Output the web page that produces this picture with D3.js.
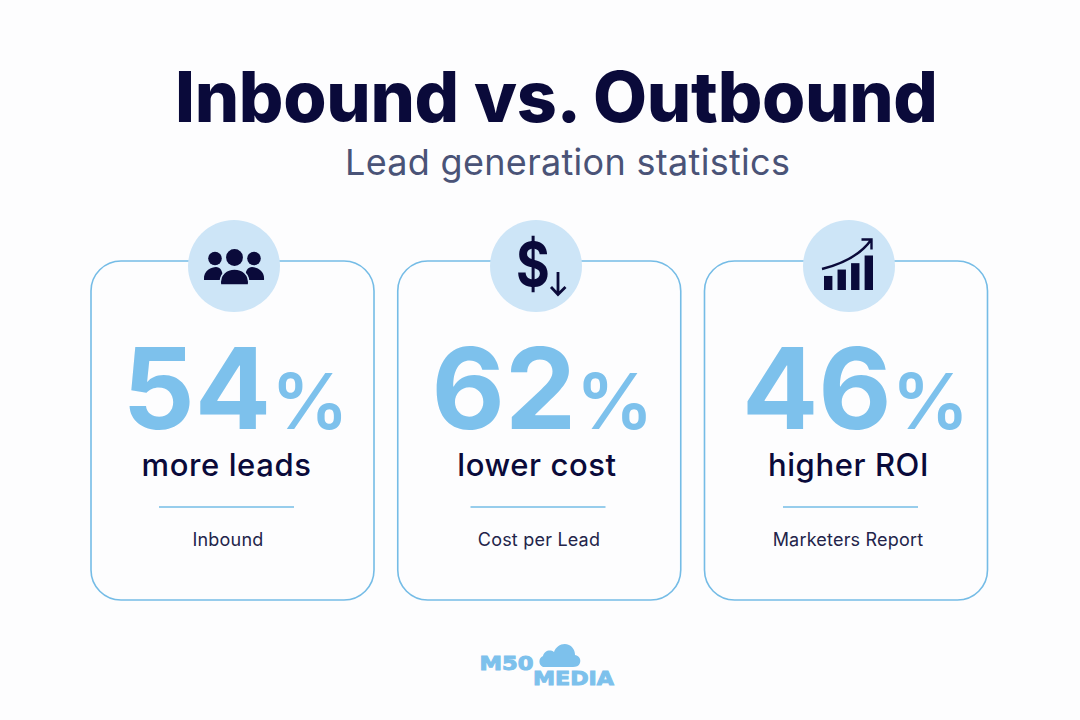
<!DOCTYPE html>
<html>
<head>
<meta charset="utf-8">
<script src="https://cdn.jsdelivr.net/npm/d3@7"></script>
<style>
  html, body { margin: 0; padding: 0; background: #fdfdfe; }
  svg { display: block; }
  text { font-family: Inter, "Noto Sans", sans-serif; }
</style>
</head>
<body>
<svg id="chart" width="1080" height="720"></svg>
<script>
const categories = ['more leads', 'lower cost', 'higher ROI'];
const percentValues = [54, 62, 46];
const sourceLabels = ['Inbound', 'Cost per Lead', 'Marketers Report'];
const iconNames = ['people', 'dollar', 'growth'];
const growthBars = [1, 2, 3, 5.4];

const navy = '#0a0a3a';
const blue = '#7dc1ec';
const border = '#75bce6';
const pale = '#cde5f7';

const svg = d3.select('#chart');
const x = d3.scaleBand().domain(categories).range([91, 987.5]).paddingInner(0.0774);
const cardTop = 261, cardHeight = 339;

// the cards' contents aren't quite centred in the reference
const iconX = [234, 536, 849];
const numberX = [235.5, 542.5, 855.5];
const labelX = [226.5, 537, 848.5];
const subX = [228, 539, 848];
const ruleX = [226.5, 538, 850.5];

svg.append('text').attr('x', 556.5).attr('y', 122)
  .attr('text-anchor', 'middle').attr('font-size', 70).attr('font-weight', 800)
  .attr('textLength', 763).attr('lengthAdjust', 'spacing')
  .attr('fill', navy).text('Inbound vs. Outbound');

svg.append('text').attr('x', 567.5).attr('y', 175)
  .attr('text-anchor', 'middle').attr('font-size', 36).attr('font-weight', 400)
  .attr('textLength', 445).attr('lengthAdjust', 'spacing')
  .attr('fill', '#4a5377').text('Lead generation statistics');

categories.forEach((cat, i) => {
  const g = svg.append('g');
  g.append('rect')
    .attr('x', x(cat)).attr('y', cardTop)
    .attr('width', x.bandwidth()).attr('height', cardHeight)
    .attr('rx', 30)
    .attr('fill', 'none').attr('stroke', border).attr('stroke-width', 1.6);

  g.append('circle').attr('cx', iconX[i]).attr('cy', 266).attr('r', 46).attr('fill', pale);

  const num = g.append('text').attr('x', numberX[i]).attr('y', 429)
    .attr('text-anchor', 'middle').attr('fill', blue);
  num.append('tspan').attr('font-size', 113).attr('font-weight', 700).text(percentValues[i]);
  num.append('tspan').attr('font-size', 77).attr('font-weight', 600).text('%');

  g.append('text').attr('x', labelX[i]).attr('y', 476)
    .attr('text-anchor', 'middle').attr('font-size', 31).attr('font-weight', 500)
    .attr('letter-spacing', 0.6)
    .attr('fill', navy).text(cat);

  g.append('line')
    .attr('x1', ruleX[i] - 67.5).attr('x2', ruleX[i] + 67.5)
    .attr('y1', 507).attr('y2', 507)
    .attr('stroke', border).attr('stroke-width', 1.5);

  g.append('text').attr('x', subX[i]).attr('y', 546)
    .attr('text-anchor', 'middle').attr('font-size', 18)
    .attr('letter-spacing', 0.2)
    .attr('fill', '#23244a').text(sourceLabels[i]);

  const icon = g.append('g').attr('transform', `translate(${iconX[i]},266)`);
  if (iconNames[i] === 'people') drawPeople(icon);
  if (iconNames[i] === 'dollar') drawDollar(icon);
  if (iconNames[i] === 'growth') drawGrowth(icon);
});

function drawPeople(g) {
  [-19, 20].forEach((dx) => {
    g.append('circle').attr('cx', dx).attr('cy', -7.5).attr('r', 6.8).attr('fill', navy);
    const side = dx < 0 ? -1 : 1;
    g.append('path')
      .attr('d', `M${side * 30},14 C${side * 31},4 ${side * 22},1 ${side * 18},1 C${side * 14},1 ${side * 11},4 ${side * 11},14 Z`)
      .attr('fill', navy);
  });
  g.append('circle').attr('cx', 0.5).attr('cy', -8.5).attr('r', 8.4).attr('fill', navy);
  g.append('path')
    .attr('d', 'M-13.5,19 C-15,8 -7,3 0.5,3 C8,3 16,8 14.5,19 Z')
    .attr('fill', navy).attr('stroke', pale).attr('stroke-width', 1.5);
}

function drawDollar(g) {
  g.append('text')
    .attr('transform', 'translate(-3,20) scale(0.86,1)')
    .attr('text-anchor', 'middle').attr('font-size', 60).attr('font-weight', 700)
    .attr('fill', navy).text('$');
  g.append('path')
    .attr('d', 'M22,6 V28 M15,21 L22,28.5 L29.5,21')
    .attr('fill', 'none').attr('stroke', navy).attr('stroke-width', 2.8);
}

function drawGrowth(g) {
  const bx = d3.scaleBand().domain(d3.range(growthBars.length)).range([-25, 24]).paddingInner(0.38);
  const by = d3.scaleLinear().domain([0, 5.4]).range([24, -10.5]);
  growthBars.forEach((b, i) => {
    const top = by(b + 1.2 * (b < 5));
    g.append('rect')
      .attr('x', bx(i)).attr('y', top)
      .attr('width', bx.bandwidth()).attr('height', by(0) - top)
      .attr('fill', navy);
  });
  g.append('path')
    .attr('d', 'M-27,3 C-3,-3 12,-12 22,-26 M12.5,-26.5 H22.5 V-16.5')
    .attr('fill', 'none').attr('stroke', navy).attr('stroke-width', 2.4);
}

// logo
const logo = svg.append('g');
logo.append('text').attr('x', 506.5).attr('y', 670)
  .attr('text-anchor', 'middle').attr('font-size', 20).attr('font-weight', 700)
  .attr('textLength', 54).attr('lengthAdjust', 'spacingAndGlyphs')
  .attr('fill', blue).attr('stroke', blue).attr('stroke-width', 1)
  .attr('style', 'font-family:"DejaVu Sans"').text('M50');
logo.append('text').attr('x', 573.5).attr('y', 685)
  .attr('text-anchor', 'middle').attr('font-size', 20).attr('font-weight', 700)
  .attr('textLength', 81).attr('lengthAdjust', 'spacingAndGlyphs')
  .attr('fill', blue).attr('stroke', blue).attr('stroke-width', 1)
  .attr('style', 'font-family:"DejaVu Sans"').text('MEDIA');
logo.append('path')
  .attr('d', 'M543,667 A6,6 0 0 1 543,656 C544,651 550,649 554,652 C556,646 563,642 569,645 C573,647 575,651 575,655 C580,656 581,660 580,663 C579,666 576,667 573,667 Z')
  .attr('fill', blue);
</script>
</body>
</html>
